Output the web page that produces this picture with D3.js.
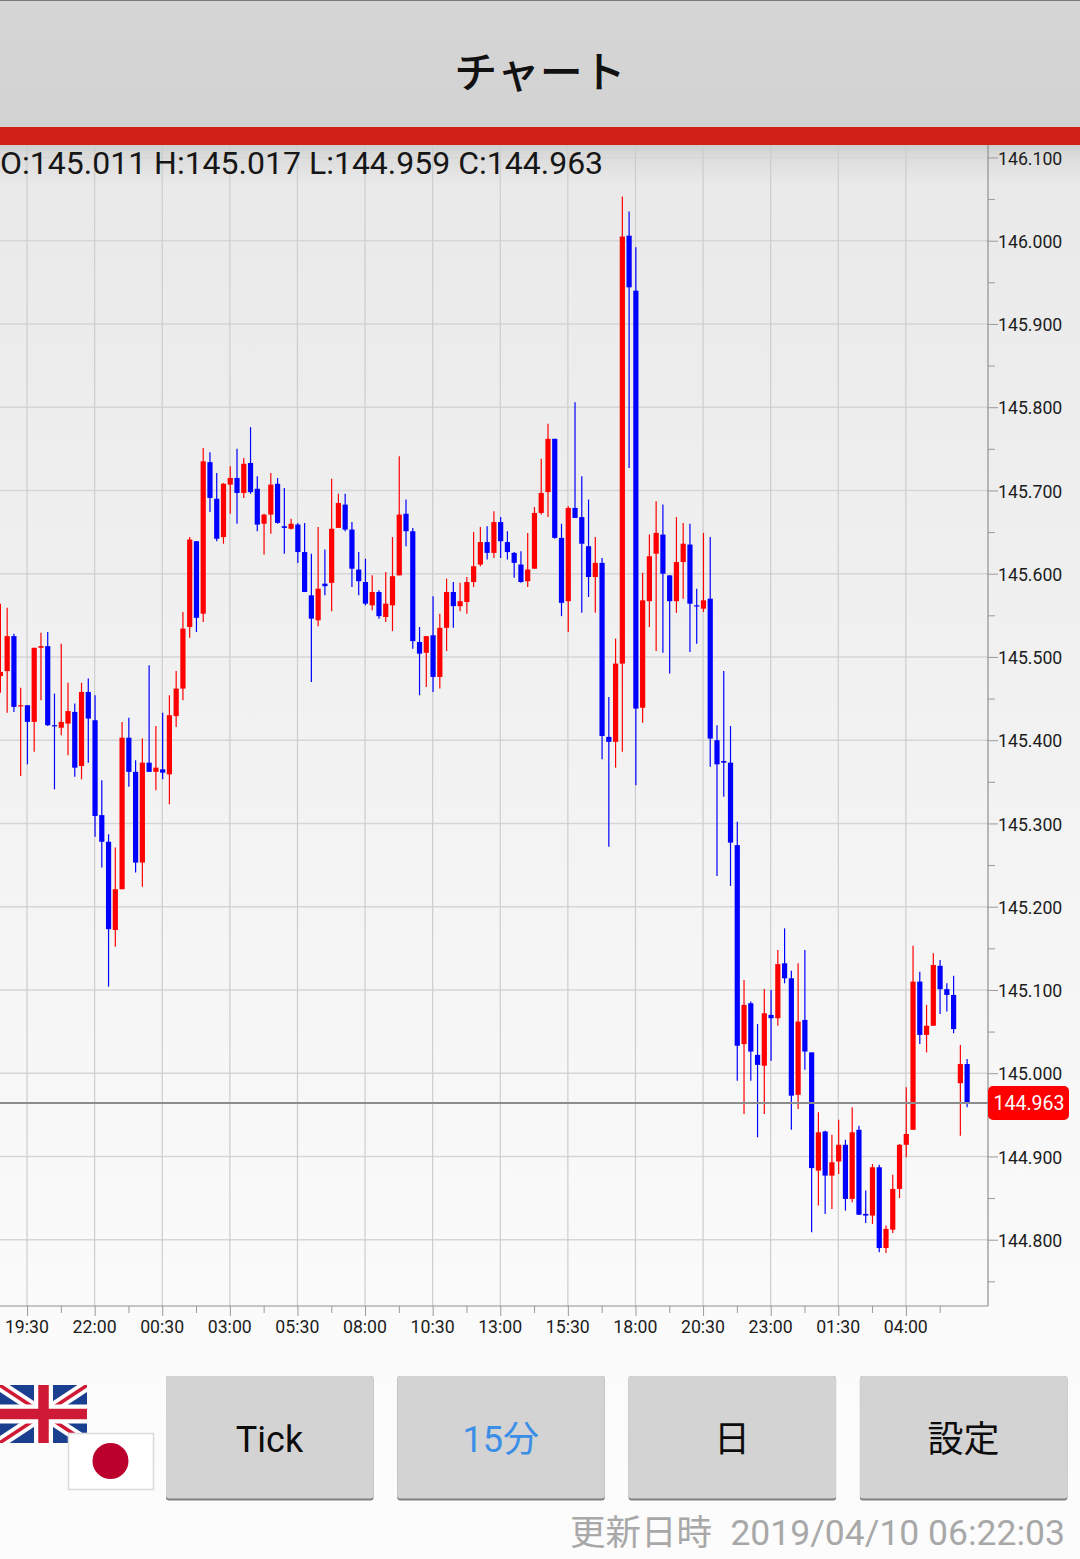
<!DOCTYPE html>
<html>
<head>
<meta charset="utf-8">
<script src="https://cdn.jsdelivr.net/npm/d3@7/dist/d3.min.js"></script>
<style>
  html, body { margin: 0; padding: 0; background: #fbfbfb; }
  svg { display: block; }
  text { font-family: Roboto, "Noto Sans CJK JP", sans-serif; }
  .axis path { display: none; }
  .axis line { stroke: #9a9a9a; }
  .axis text { font-size: 17.7px; fill: #1c1c1c; }
</style>
</head>
<body>
<div id="chart"></div>
<script>
const opens = [145.477,145.483,145.525,145.441,145.442,145.422,145.511,145.513,145.418,145.415,145.420,145.434,145.369,145.458,145.424,145.310,145.278,145.172,145.221,145.403,145.362,145.253,145.373,145.362,145.365,145.359,145.429,145.462,145.536,145.639,145.552,145.734,145.690,145.644,145.707,145.715,145.697,145.733,145.702,145.660,145.671,145.708,145.657,145.654,145.659,145.626,145.574,145.544,145.588,145.589,145.655,145.683,145.653,145.605,145.590,145.562,145.578,145.548,145.562,145.598,145.672,145.651,145.518,145.505,145.526,145.476,145.535,145.578,145.561,145.566,145.590,145.611,145.638,145.625,145.662,145.638,145.625,145.611,145.591,145.606,145.673,145.698,145.762,145.643,145.567,145.679,145.668,145.633,145.596,145.613,145.404,145.398,145.492,146.006,145.940,145.439,145.567,145.624,145.647,145.598,145.567,145.614,145.635,145.562,145.558,145.570,145.400,145.375,145.373,145.274,145.035,145.084,145.022,145.009,145.070,145.066,145.132,145.114,144.974,145.064,145.025,144.883,144.930,144.877,144.894,144.914,144.849,144.932,144.831,144.829,144.887,144.790,144.812,144.861,144.914,144.932,145.110,145.046,145.057,145.129,145.101,145.094,144.988,145.011];
const highs = [145.564,145.559,145.528,145.463,145.442,145.511,145.529,145.530,145.456,145.516,145.469,145.444,145.469,145.474,145.454,145.352,145.287,145.271,145.422,145.427,145.376,145.402,145.490,145.417,145.433,145.454,145.483,145.554,145.644,145.639,145.751,145.746,145.721,145.709,145.729,145.750,145.739,145.776,145.717,145.672,145.721,145.715,145.703,145.666,145.661,145.661,145.624,145.656,145.629,145.714,145.696,145.696,145.662,145.626,145.618,145.598,145.580,145.602,145.644,145.741,145.689,145.655,145.536,145.525,145.573,145.552,145.594,145.590,145.589,145.596,145.650,145.656,145.657,145.675,145.668,145.651,145.626,145.627,145.649,145.680,145.738,145.780,145.762,145.660,145.681,145.806,145.717,145.689,145.644,145.619,145.452,145.522,146.053,146.035,145.992,145.601,145.647,145.687,145.683,145.598,145.668,145.661,145.660,145.582,145.649,145.644,145.418,145.483,145.417,145.302,145.112,145.086,145.059,145.101,145.100,145.148,145.174,145.123,145.132,145.148,145.025,144.953,144.931,144.926,144.944,144.920,144.959,144.937,144.859,144.891,144.890,144.817,144.878,144.915,144.983,145.153,145.122,145.082,145.144,145.136,145.108,145.117,145.034,145.017];
const lows = [145.457,145.433,145.434,145.357,145.371,145.386,145.448,145.417,145.341,145.406,145.382,145.356,145.353,145.373,145.284,145.247,145.104,145.152,145.221,145.344,145.241,145.224,145.362,145.340,145.353,145.323,145.416,145.448,145.523,145.530,145.542,145.674,145.639,145.636,145.672,145.660,145.691,145.696,145.651,145.623,145.648,145.660,145.624,145.653,145.613,145.578,145.470,145.537,145.574,145.555,145.655,145.651,145.584,145.574,145.562,145.556,145.546,145.542,145.531,145.598,145.633,145.510,145.454,145.464,145.458,145.462,145.507,145.535,145.555,145.552,145.584,145.609,145.617,145.619,145.619,145.617,145.595,145.589,145.584,145.606,145.671,145.668,145.642,145.549,145.530,145.667,145.553,145.572,145.553,145.377,145.272,145.367,145.386,145.727,145.346,145.421,145.536,145.507,145.505,145.480,145.553,145.570,145.506,145.516,145.554,145.368,145.237,145.332,145.225,144.991,144.951,144.991,144.923,144.951,145.015,145.057,145.108,144.932,144.957,145.004,144.809,144.841,144.831,144.837,144.879,144.835,144.845,144.830,144.820,144.819,144.785,144.784,144.808,144.850,144.899,144.932,145.035,145.025,145.057,145.071,145.074,145.048,144.925,144.959];
const closes = [145.482,145.525,145.440,145.442,145.422,145.511,145.513,145.418,145.417,145.422,145.435,145.367,145.458,145.426,145.309,145.278,145.173,145.221,145.403,145.362,145.253,145.373,145.362,145.367,145.361,145.430,145.462,145.534,145.641,145.547,145.735,145.691,145.642,145.708,145.715,145.697,145.732,145.698,145.659,145.671,145.707,145.661,145.655,145.660,145.626,145.578,145.546,145.582,145.585,145.654,145.685,145.653,145.606,145.591,145.564,145.578,145.549,145.564,145.597,145.671,145.651,145.519,145.504,145.525,145.476,145.535,145.578,145.561,145.567,145.590,145.609,145.638,145.625,145.662,145.639,145.626,145.613,145.590,145.605,145.673,145.697,145.762,145.643,145.565,145.679,145.667,145.636,145.596,145.613,145.405,145.398,145.492,146.005,145.944,145.438,145.568,145.621,145.649,145.600,145.567,145.614,145.636,145.564,145.561,145.568,145.402,145.371,145.373,145.277,145.033,145.082,145.026,145.010,145.072,145.066,145.131,145.114,144.973,145.062,145.026,144.886,144.929,144.877,144.893,144.914,144.849,144.929,144.830,144.829,144.887,144.790,144.813,144.861,144.914,144.927,145.110,145.046,145.057,145.130,145.101,145.094,145.053,145.011,144.963];

const xTickIndex = [4,14,24,34,44,54,64,74,84,94,104,114,124,134];
const xMinorIndex = [9,19,29,39,49,59,69,79,89,99,109,119,129,139];
const xLabels = ['19:30','22:00','00:30','03:00','05:30','08:00','10:30','13:00','15:30','18:00','20:30','23:00','01:30','04:00'];
const yTicks = [146.1,146.0,145.9,145.8,145.7,145.6,145.5,145.4,145.3,145.2,145.1,145.0,144.9,144.8];
const yMinor = [146.05,145.95,145.85,145.75,145.65,145.55,145.45,145.35,145.25,145.15,145.05,144.95,144.85,144.75];
const lastPrice = 144.963;
const ohlcText = 'O:145.011 H:145.017 L:144.959 C:144.963';
const buttons = ['Tick','15分','日','設定'];
const updatedLabel = '更新日時';
const updatedTime = '2019/04/10 06:22:03';

const W = 1080, H = 1559;
const M = { t: 145, r: 92, b: 253, l: 0 };
const plotR = W - M.r, plotB = H - M.b;

const svg = d3.select('#chart').append('svg').attr('width', W).attr('height', H).attr('viewBox', `0 0 ${W} ${H}`);
const defs = svg.append('defs');

function grad(id, stops) {
  const g = defs.append('linearGradient').attr('id', id).attr('x1', 0).attr('x2', 0).attr('y1', 0).attr('y2', 1);
  stops.forEach(s => g.append('stop').attr('offset', s[0]).attr('stop-color', s[1]));
}
grad('pageBg', [[0, '#e9e9e9'], [0.85, '#fbfbfb'], [1, '#fcfcfc']]);
grad('headBg', [[0, '#d6d6d6'], [1, '#d2d2d2']]);
grad('shade', [[0, '#cfcfcf'], [0.3, '#dcdcdc'], [1, '#e9e9e9']]);

svg.append('rect').attr('x', 0).attr('y', M.t).attr('width', W).attr('height', H - M.t).attr('fill', 'url(#pageBg)');
svg.append('rect').attr('x', 0).attr('y', M.t).attr('width', W).attr('height', 38).attr('fill', 'url(#shade)');

// header
svg.append('rect').attr('width', W).attr('height', 127).attr('fill', 'url(#headBg)');
svg.append('rect').attr('width', W).attr('height', 1).attr('fill', '#777');
svg.append('rect').attr('y', 127).attr('width', W).attr('height', 18).attr('fill', '#d12116');
svg.append('text').attr('x', W / 2).attr('y', 73).attr('dy', '0.36em').attr('text-anchor', 'middle')
  .attr('font-size', 43).attr('font-weight', 500).attr('fill', '#111').text('チャート');

// scales
const x = d3.scaleLinear().domain([0, 146]).range([0, 987]);
const y = d3.scaleLinear().domain([146, 144.8]).range([240.7, 1239.7]);

// grid
const grid = svg.append('g');
grid.selectAll('.h').data(yTicks).enter().append('line')
  .attr('x1', 0).attr('x2', plotR).attr('y1', d => y(d)).attr('y2', d => y(d))
  .attr('stroke', '#d6d6d6').attr('stroke-width', 1.4);
grid.selectAll('.v').data(xTickIndex).enter().append('line')
  .attr('x1', d => x(d)).attr('x2', d => x(d)).attr('y1', M.t).attr('y2', plotB)
  .attr('stroke', '#cdcdcd').attr('stroke-width', 1.2);

// axes
const yAxis = d3.axisRight(y).tickValues(yTicks).tickFormat(d3.format('.3f')).tickSize(10).tickPadding(0);
const yG = svg.append('g').attr('class', 'axis').attr('transform', `translate(${plotR},0)`).call(yAxis);
yG.selectAll('text').attr('dy', '0.37em');
const yAxisMinor = d3.axisRight(y).tickValues(yMinor).tickFormat('').tickSize(7);
svg.append('g').attr('class', 'axis').attr('transform', `translate(${plotR},0)`).call(yAxisMinor);
const xAxis = d3.axisBottom(x).tickValues(xTickIndex).tickFormat((d, i) => xLabels[i]).tickSize(10).tickPadding(4);
const xG = svg.append('g').attr('class', 'axis').attr('transform', `translate(0,${plotB})`).call(xAxis);
xG.selectAll('text').attr('dx', '-0.6');
const xAxisMinor = d3.axisBottom(x).tickValues(xMinorIndex).tickFormat('').tickSize(7);
svg.append('g').attr('class', 'axis').attr('transform', `translate(0,${plotB})`).call(xAxisMinor);
svg.append('line').attr('x1', plotR).attr('x2', plotR).attr('y1', M.t).attr('y2', plotB).attr('stroke', '#8f8f8f').attr('stroke-width', 1.2);
svg.append('line').attr('x1', 0).attr('x2', plotR).attr('y1', plotB).attr('y2', plotB).attr('stroke', '#8f8f8f').attr('stroke-width', 1.2);

// candles
const candles = opens.map((o, i) => ({ i, o, h: highs[i], l: lows[i], c: closes[i] }));
const candleColor = d => d.c >= d.o ? '#ff0000' : '#0000ff';
const g = svg.append('g').attr('transform', 'translate(0.4,0)').selectAll('g').data(candles).enter().append('g');
g.append('line')
  .attr('x1', d => x(d.i)).attr('x2', d => x(d.i))
  .attr('y1', d => y(d.h)).attr('y2', d => y(d.l))
  .attr('stroke', candleColor).attr('stroke-width', 1.2);
g.append('rect')
  .attr('x', d => x(d.i) - 2.6).attr('width', 5.2)
  .attr('y', d => y(Math.max(d.o, d.c)))
  .attr('height', d => Math.max(1.2, Math.abs(y(d.o) - y(d.c))))
  .attr('fill', candleColor);

// last price
const lastY = y(lastPrice) - 1;
svg.append('line').attr('x1', 0).attr('x2', plotR).attr('y1', lastY).attr('y2', lastY)
  .attr('stroke', '#8c8c8c').attr('stroke-width', 1.8);
svg.append('rect').attr('x', plotR).attr('y', lastY - 17).attr('width', 81).attr('height', 34).attr('rx', 5)
  .attr('fill', '#ff0000');
svg.append('text').attr('x', plotR + 41).attr('y', lastY).attr('dy', '0.36em').attr('text-anchor', 'middle')
  .attr('font-size', 19.5).attr('fill', '#fff').text(lastPrice.toFixed(3));

svg.append('text').attr('x', 0).attr('y', 162.5).attr('dy', '0.36em').attr('font-size', 32).attr('fill', '#161616').text(ohlcText);

// flags
const uk = svg.append('g').attr('transform', 'translate(0,1385)');
defs.append('clipPath').attr('id', 'ukClip').append('rect').attr('width', 87).attr('height', 58);
const ukG = uk.append('g').attr('clip-path', 'url(#ukClip)');
ukG.append('rect').attr('width', 87).attr('height', 58).attr('fill', '#1b3f8f');
ukG.append('path').attr('d', 'M-5,-3L92,61M92,-3L-5,61').attr('stroke', '#fff').attr('stroke-width', 11);
ukG.append('path').attr('d', 'M-5,-3L92,61M92,-3L-5,61').attr('stroke', '#cf1a36').attr('stroke-width', 3.5);
ukG.append('path').attr('d', 'M43.5,0V58M0,29H87').attr('stroke', '#fff').attr('stroke-width', 19);
ukG.append('path').attr('d', 'M43.5,0V58M0,29H87').attr('stroke', '#cf1a36').attr('stroke-width', 10.5);
svg.append('rect').attr('x', 68.5).attr('y', 1433.5).attr('width', 85).attr('height', 56)
  .attr('fill', '#fff').attr('stroke', '#dcdcdc').attr('stroke-width', 1.6);
svg.append('circle').attr('cx', 110.5).attr('cy', 1461).attr('r', 18).attr('fill', '#bc002d');

// buttons
const bx = d3.scaleBand().domain(buttons).range([154, 1079.2]).paddingInner(0);
const btn = svg.append('g').selectAll('g').data(buttons).enter().append('g')
  .attr('transform', d => `translate(${bx(d) + 12},1376)`);
btn.append('rect').attr('width', 207.5).attr('height', 124.5).attr('rx', 3).attr('fill', '#808080');
btn.append('rect').attr('width', 207.5).attr('height', 122.5).attr('rx', 3).attr('fill', '#d3d3d3');
btn.append('text').attr('x', 103.5).attr('y', 63).attr('dy', '0.36em').attr('text-anchor', 'middle')
  .attr('font-size', 36).attr('fill', d => d === '15分' ? '#3a8ee6' : '#0c0c0c').text(d => d);

svg.append('text').attr('x', 570).attr('y', 1532).attr('dy', '0.36em')
  .attr('font-size', 35.5).attr('fill', '#a8a8a8').text(updatedLabel);
svg.append('text').attr('x', 1065).attr('y', 1532).attr('dy', '0.36em').attr('text-anchor', 'end')
  .attr('font-size', 35.5).attr('fill', '#a8a8a8').text(updatedTime);
</script>
</body>
</html>
